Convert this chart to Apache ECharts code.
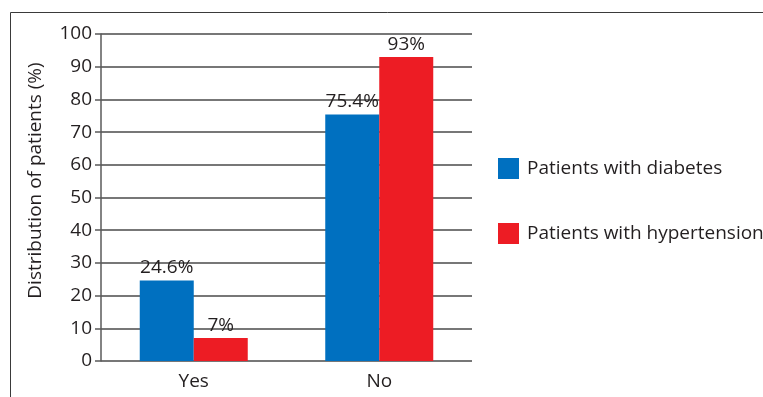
<!DOCTYPE html>
<html>
<head>
<meta charset="utf-8">
<script src="https://cdn.jsdelivr.net/npm/echarts@6/dist/echarts.min.js"></script>
<style>
  html, body { margin: 0; padding: 0; background: #fff; }
  #chart { width: 763px; height: 397px; }
</style>
</head>
<body>
<div id="chart"></div>
<script>
/* ---- data ---- */
const categories = ["Yes", "No"];
const diabetes = [24.6, 75.4];
const hypertension = [7, 93];
const seriesNames = ["Patients with diabetes", "Patients with hypertension"];

const FONT = "'Open Sans', 'Noto Sans', sans-serif";
const INK = "#231f20";

const chart = echarts.init(document.getElementById("chart"), null, { renderer: "canvas" });

const label = {
  show: true, position: "top", distance: 3,
  color: INK, fontSize: 19, fontFamily: FONT,
  formatter: (p) => p.value + "%",
};

chart.setOption({
  animation: false,
  textStyle: { fontFamily: FONT, color: INK },
  graphic: [{
    type: "rect", silent: true,
    shape: { x: 10.5, y: 12.5, width: 800, height: 500 },
    style: { fill: "none", stroke: "#3a3a3a", lineWidth: 1 },
  }],
  grid: { left: 101, top: 34, width: 371, height: 327 },
  legend: {
    orient: "vertical", left: 493, top: 153,
    itemWidth: 21, itemHeight: 21, itemGap: 44,
    icon: "rect",
    textStyle: { fontSize: 19, color: INK, fontFamily: FONT, padding: [0, 0, 0, 3] },
    data: seriesNames,
  },
  xAxis: {
    type: "category", data: categories,
    axisLine: { show: false },
    axisTick: { show: false },
    axisLabel: { color: INK, fontSize: 19, margin: 11, fontFamily: FONT },
  },
  yAxis: {
    type: "value", min: 0, max: 100, interval: 10,
    name: "Distribution of patients (%)",
    nameLocation: "middle", nameGap: 56,
    nameTextStyle: { fontSize: 19, color: INK, fontFamily: FONT, padding: [0, 0, 0, 34] },
    axisLine: { show: true, lineStyle: { color: "#5a5a5a", width: 1.5 } },
    axisTick: { show: true, length: 6, lineStyle: { color: "#5a5a5a", width: 1.5 } },
    axisLabel: { color: INK, fontSize: 19, margin: 9, fontFamily: FONT },
    splitLine: { lineStyle: { color: "#4a4a4a", width: 1.5 } },
  },
  series: [
    { name: seriesNames[0], type: "bar", data: diabetes, barGap: "0%", barWidth: 54,
      itemStyle: { color: "#0070c0" }, label },
    { name: seriesNames[1], type: "bar", data: hypertension, barWidth: 54,
      itemStyle: { color: "#ed1c24" }, label },
  ],
});
</script>
</body>
</html>
